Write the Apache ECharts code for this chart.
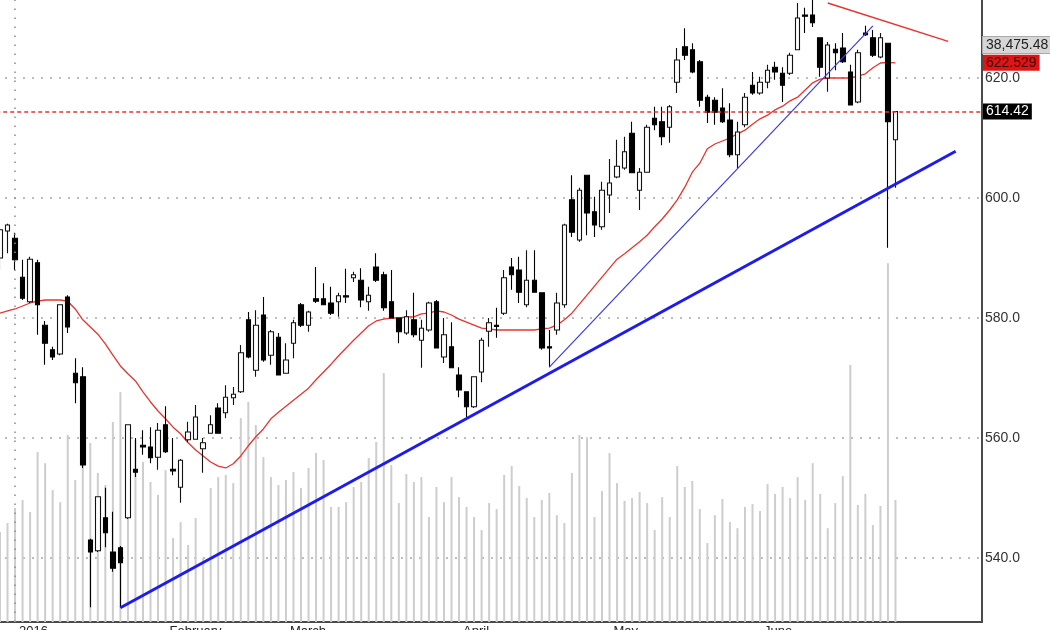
<!DOCTYPE html>
<html>
<head>
<meta charset="utf-8">
<title>Daily candles</title>
<script src="https://cdn.jsdelivr.net/npm/echarts@6/dist/echarts.min.js"></script>
<style>
  html, body { margin: 0; padding: 0; background: #fff; }
  #main { width: 1050px; height: 630px; }
</style>
</head>
<body>
<div id="main"></div>
<script>
// sessions 0..119, the axis keeps empty room on the right
var slotCount = 131;

var monthIdx = [2, 22, 38, 61, 81, 101];
var monthNames = ['2016', 'February', 'March', 'April', 'May', 'June'];

var yTicks = [540, 560, 580, 600, 620];
var yMin = 529.33;
var yMax = 633;

var opens = [
  590.0, 594.5, 593.3, 586.8, 582.7, 589.2, 578.8, 574.7, 574.0, 583.5,
  570.8, 570.2, 543.0, 541.2, 546.7, 541.0, 541.7, 546.7, 554.8, 558.8,
  558.5, 556.8, 562.2, 554.8, 551.8, 559.7, 559.8, 558.2, 560.8, 565.0,
  564.2, 566.7, 567.7, 579.7, 571.3, 580.5, 573.8, 576.8, 570.8, 575.8,
  582.2, 578.8, 583.2, 583.2, 582.5, 582.7, 583.7, 586.7, 586.3, 582.7,
  588.5, 587.2, 582.7, 580.0, 577.5, 579.7, 576.3, 578.0, 582.7, 573.5,
  575.2, 570.5, 567.7, 565.2, 571.0, 577.8, 578.8, 580.8, 588.5, 588.0,
  582.2, 586.3, 584.2, 575.2, 578.0, 582.2, 599.7, 593.0, 603.8, 597.7,
  595.2, 600.5, 603.5, 605.0, 610.8, 601.3, 604.3, 613.3, 612.7, 611.8,
  619.3, 625.2, 624.7, 622.7, 616.8, 616.3, 615.0, 613.0, 607.2, 612.2,
  618.8, 617.5, 619.3, 621.8, 620.8, 620.8, 624.7, 630.5, 630.5, 626.7,
  620.0, 624.8, 625.0, 621.0, 616.0, 627.5, 626.7, 623.5, 625.8, 609.7
];
var closes = [
  594.7, 595.5, 589.7, 583.3, 589.8, 582.2, 575.8, 573.5, 582.2, 578.5,
  569.2, 555.5, 541.0, 550.2, 544.2, 538.3, 539.2, 562.2, 554.3, 558.5,
  556.7, 561.3, 557.7, 554.5, 556.3, 561.0, 563.5, 559.2, 562.2, 560.8,
  566.8, 567.3, 574.2, 573.5, 578.8, 573.0, 577.7, 570.5, 573.0, 579.2,
  578.8, 581.0, 582.8, 582.2, 580.8, 583.7, 583.5, 587.2, 583.0, 583.8,
  586.3, 581.7, 580.0, 577.7, 580.2, 577.2, 578.3, 582.5, 575.0, 577.2,
  571.7, 568.0, 565.2, 570.2, 576.3, 579.2, 578.6, 586.7, 587.2, 584.3,
  586.3, 584.3, 575.0, 575.0, 582.5, 595.5, 594.3, 601.3, 597.5, 595.5,
  601.3, 602.5, 605.3, 607.7, 604.2, 604.3, 611.8, 612.2, 610.2, 615.2,
  623.0, 623.8, 621.0, 616.3, 614.3, 614.3, 612.7, 607.2, 611.0, 616.8,
  617.5, 619.3, 621.3, 621.0, 618.8, 623.8, 630.0, 630.3, 629.2, 621.8,
  625.5, 624.2, 622.7, 615.5, 624.2, 627.2, 623.8, 626.7, 612.7, 614.42
];
var lows = [
  588.0, 590.8, 588.0, 583.0, 582.5, 577.2, 572.2, 573.0, 573.8, 577.5,
  565.8, 555.0, 531.8, 541.0, 541.8, 537.7, 531.7, 546.5, 553.5, 557.2,
  555.8, 554.7, 557.5, 553.8, 549.2, 559.3, 559.7, 554.2, 560.8, 560.7,
  563.3, 565.5, 567.5, 573.3, 570.2, 572.7, 572.2, 570.5, 570.7, 573.3,
  578.5, 577.7, 582.5, 582.2, 580.5, 580.2, 582.5, 586.0, 581.8, 581.2,
  586.0, 581.2, 580.0, 575.8, 577.2, 576.8, 571.7, 577.7, 575.0, 572.5,
  571.7, 566.8, 563.5, 565.0, 569.3, 575.2, 576.7, 580.5, 584.7, 582.5,
  581.8, 584.2, 574.7, 571.8, 577.2, 581.7, 593.5, 592.7, 593.8, 593.5,
  594.7, 597.5, 603.3, 604.7, 604.2, 598.0, 604.2, 611.3, 608.8, 609.2,
  617.5, 623.0, 620.8, 615.2, 612.5, 612.2, 612.5, 606.8, 605.0, 611.8,
  617.2, 617.2, 618.3, 619.7, 616.0, 620.5, 624.7, 627.5, 628.5, 620.2,
  617.7, 621.3, 622.5, 615.5, 615.8, 627.0, 623.5, 623.3, 591.7, 601.7
];
var highs = [
  595.0, 595.7, 594.2, 589.7, 590.2, 589.7, 579.5, 575.2, 582.3, 583.8,
  573.3, 571.8, 543.2, 550.3, 551.7, 547.7, 542.0, 562.3, 560.0, 561.3,
  561.8, 562.5, 565.3, 560.0, 556.5, 562.7, 565.5, 560.0, 563.8, 565.8,
  568.8, 568.5, 575.5, 581.0, 581.3, 583.5, 578.0, 577.5, 575.8, 579.7,
  582.5, 581.2, 588.5, 585.8, 585.2, 584.2, 588.2, 587.7, 588.3, 585.2,
  590.8, 587.7, 588.0, 580.0, 581.3, 584.2, 579.7, 582.7, 583.0, 580.0,
  579.3, 571.8, 567.8, 570.3, 576.7, 580.0, 581.7, 588.0, 590.0, 590.2,
  591.3, 591.3, 584.3, 578.0, 584.2, 595.7, 603.8, 601.7, 603.8, 600.2,
  602.7, 606.5, 609.7, 610.2, 612.7, 605.0, 612.2, 615.2, 615.2, 615.5,
  625.0, 628.3, 625.8, 623.0, 617.2, 616.8, 618.3, 615.8, 612.7, 617.5,
  621.0, 620.2, 622.2, 622.7, 621.8, 624.2, 632.5, 631.7, 634.0, 626.8,
  626.0, 625.8, 627.5, 622.2, 624.7, 628.7, 628.0, 627.5, 625.8, 614.5
];

// 20-day average
var ma20 = [
  580.8, 581.2, 581.5, 582.0, 582.5, 582.8, 583.0, 583.0, 583.0, 582.8,
  581.5, 579.7, 578.5, 577.3, 575.7, 573.8, 572.0, 570.7, 569.5, 567.7,
  566.0, 564.5, 563.2, 561.8, 560.7, 559.2, 558.0, 557.0, 556.0, 555.3,
  555.0, 555.7, 557.0, 558.7, 560.2, 561.5, 563.2, 564.3, 565.3, 566.3,
  567.3, 568.3, 569.7, 571.0, 572.3, 573.7, 575.0, 576.3, 577.5, 578.7,
  579.5, 579.8, 580.0, 580.0, 580.2, 580.2, 580.7, 580.8, 581.2, 581.0,
  580.5, 579.8, 579.3, 578.8, 578.3, 578.2, 578.0, 578.0, 578.0, 578.0,
  578.0, 578.0, 578.2, 578.3, 578.8, 579.7, 580.8, 582.3, 583.8, 585.3,
  586.8, 588.3, 589.8, 590.7, 591.7, 592.7, 593.8, 595.2, 596.5, 598.0,
  599.7, 601.8, 604.3, 605.8, 608.2, 609.0, 609.5, 610.0, 610.7, 611.3,
  612.3, 613.2, 613.8, 614.7, 615.3, 616.2, 616.8, 618.0, 619.2, 619.8,
  620.0, 620.0, 620.0, 620.0, 620.3, 620.7, 621.7, 622.5, 622.6, 622.529
];

// volume, thousands of lots
var volumes = [
  28.4, 31.2, 36.0, 38.5, 34.7, 53.6, 50.1, 41.6, 37.8, 59.0,
  44.8, 72.5, 56.5, 47.0, 43.2, 63.1, 72.5, 62.1, 57.4, 50.5,
  44.2, 40.1, 47.9, 26.5, 31.5, 24.3, 32.8, 20.2, 42.3, 45.7,
  46.4, 43.8, 64.3, 69.4, 62.1, 52.0, 45.7, 43.2, 44.8, 47.3,
  42.3, 48.6, 53.3, 51.1, 36.3, 36.3, 37.8, 42.6, 44.2, 51.7,
  56.8, 78.5, 49.5, 37.5, 46.7, 44.2, 45.7, 33.1, 42.6, 37.8,
  45.7, 39.4, 36.3, 33.1, 29.0, 37.5, 35.6, 46.4, 49.2, 42.9,
  39.1, 33.1, 38.5, 40.7, 33.7, 31.2, 47.0, 59.0, 58.3, 33.1,
  41.3, 53.3, 43.8, 38.2, 39.1, 41.0, 37.5, 29.0, 39.4, 33.1,
  49.2, 42.6, 44.5, 35.6, 24.9, 33.7, 38.8, 31.5, 29.6, 36.3,
  37.2, 35.0, 43.5, 40.4, 42.6, 39.1, 45.7, 38.5, 50.1, 40.4,
  29.6, 37.5, 46.0, 81.1, 36.9, 40.4, 30.6, 36.6, 113.2, 38.5
];
var volMax = 196.2;

// drawn lines: [startIdx, startPrice, endIdx, endPrice]
var supportLong = [16, 531.7, 127, 607.8];
var supportShort = [73, 571.8, 116, 628.7];
var resistance = [110, 632.5, 126, 626.1];

var lastClose = 614.42;
var volTag = '38,475.48';
var volTagLevel = 625.5;

var days = [];
for (var i = 0; i < slotCount; i++) days.push(String(i));

var candles = opens.map(function (o, i) {
  return [o, closes[i], lows[i], highs[i]];
});

function seg(s, color, width) {
  return [
    { coord: [s[0], s[1]], lineStyle: { color: color, width: width, type: 'solid' } },
    { coord: [s[2], s[3]] }
  ];
}

function isMonth(idx) {
  return monthIdx.indexOf(idx) >= 0;
}

// price tag sitting just right of the axis
function tag(text, bg, fg, border) {
  return {
    show: true,
    position: 'end',
    distance: 1,
    formatter: function () { return text; },
    backgroundColor: bg,
    borderColor: border || bg,
    borderWidth: border ? 1 : 0,
    color: fg,
    fontSize: 14,
    padding: [1, 3]
  };
}

var chart = echarts.init(document.getElementById('main'));

chart.setOption({
  animation: false,
  backgroundColor: '#fff',
  textStyle: { fontFamily: 'Liberation Sans, Arial, sans-serif' },
  grid: {
    left: -3.76,
    right: 68,
    top: 0,
    bottom: 8,
    containLabel: false,
    outerBoundsMode: 'none'
  },
  xAxis: {
    type: 'category',
    data: days,
    boundaryGap: true,
    axisLine: { lineStyle: { color: '#4a4a4a', width: 2 } },
    axisTick: {
      alignWithLabel: true,
      length: 8,
      interval: isMonth,
      lineStyle: { color: '#333', width: 1.5 }
    },
    axisLabel: {
      interval: isMonth,
      formatter: function (v, idx) {
        return monthNames[monthIdx.indexOf(idx)];
      },
      align: 'left',
      padding: [0, 0, 0, 4],
      margin: 3,
      color: '#222',
      fontSize: 13
    },
    splitLine: { show: false }
  },
  yAxis: [
    {
      type: 'value',
      position: 'right',
      min: yMin,
      max: yMax,
      axisLine: { show: true, lineStyle: { color: '#4a4a4a', width: 2 } },
      axisTick: { show: false, customValues: yTicks },
      axisLabel: {
        customValues: yTicks,
        formatter: function (v) { return v.toFixed(1); },
        color: '#333',
        fontSize: 14,
        margin: 3
      },
      splitLine: {
        show: true,
        lineStyle: { color: '#8a8a8a', width: 1.5, type: [1.5, 7.5] }
      }
    },
    {
      type: 'value',
      min: 0,
      max: volMax,
      show: false
    }
  ],
  series: [
    {
      name: 'Volume',
      type: 'bar',
      yAxisIndex: 1,
      data: volumes,
      barWidth: 2,
      itemStyle: { color: '#cdcdcd' },
      silent: true,
      z: 1
    },
    {
      name: 'MA20',
      type: 'line',
      data: ma20,
      symbol: 'none',
      lineStyle: { color: '#e8342c', width: 1.3 },
      silent: true,
      z: 3,
      markLine: {
        silent: true,
        symbol: 'none',
        data: [{
          yAxis: ma20[ma20.length - 1],
          lineStyle: { color: 'rgba(0,0,0,0)', width: 0 },
          label: tag(ma20[ma20.length - 1].toFixed(3), '#e01414', '#3a0000')
        }]
      }
    },
    {
      name: 'Price',
      type: 'candlestick',
      data: candles,
      barWidth: 5,
      clip: true,
      itemStyle: {
        color: '#ffffff',
        color0: '#000000',
        borderColor: '#111',
        borderColor0: '#000',
        borderWidth: 1.1
      },
      z: 4,
      markLine: {
        silent: true,
        symbol: 'none',
        label: { show: false },
        data: [
          {
            xAxis: monthIdx[0],
            lineStyle: { color: '#8a8a8a', width: 1.5, type: [1.5, 7.5] }
          },
          {
            yAxis: lastClose,
            lineStyle: { color: '#e8342c', width: 1.5, type: [4, 3] },
            label: tag(lastClose.toFixed(2), '#000', '#fff')
          },
          {
            yAxis: volTagLevel,
            lineStyle: { color: 'rgba(0,0,0,0)', width: 0 },
            label: tag(volTag, '#d6d6d6', '#222', '#aaa')
          },
          seg(supportLong, '#1c1cf0', 3),
          seg(supportShort, '#3a3ae8', 1.2),
          seg(resistance, '#e8342c', 1.5)
        ]
      }
    }
  ]
});
</script>
</body>
</html>
